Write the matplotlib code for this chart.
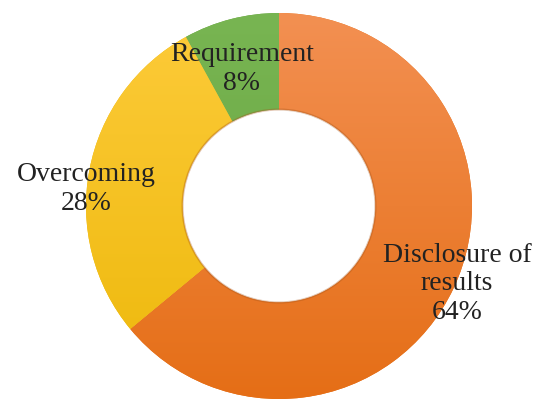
import matplotlib.pyplot as plt
import numpy as np
from matplotlib.colors import LinearSegmentedColormap
from matplotlib.patches import Circle

plt.rcParams["font.family"] = ["Liberation Serif", "DejaVu Serif"]

# share of answers per category
labels = ["Disclosure of\nresults", "Overcoming", "Requirement"]
shares = [64, 28, 8]
# light (top) / dark (bottom) shade for each ring segment
shades = [("#F39052", "#E56E16"), ("#FDCB3A", "#EDB80A"), ("#78B552", "#66A23F")]

fig = plt.figure(figsize=(5.39, 4.07), dpi=100)
ax = fig.add_axes([0, 0, 1, 1])

cx, cy, r = 279, 201, 193
hole = r * 0.5
wedges, texts = ax.pie(shares, colors=[s[1] for s in shades], startangle=90,
                       counterclock=False, radius=r, center=(cx, cy),
                       labels=[f"{l}\n{v}%" for l, v in zip(labels, shares)],
                       labeldistance=1.08,
                       wedgeprops=dict(width=r - hole, linewidth=0),
                       textprops=dict(fontsize=20, color="#222222",
                                      ha="center", va="center",
                                      linespacing=1.2))

# vertical shading inside each segment
grad = np.linspace(0, 1, 256).reshape(-1, 1)
for w, (light, dark) in zip(wedges, shades):
    cmap = LinearSegmentedColormap.from_list("g", [dark, light])
    im = ax.imshow(grad, cmap=cmap, origin="lower", aspect="auto",
                   extent=(cx - r, cx + r, cy - r, cy + r), zorder=1.5)
    im.set_clip_path(w)

# soft rim around the hole
ax.add_patch(Circle((cx, cy), hole, fill=False, edgecolor="#A85418",
                    linewidth=1.5, alpha=0.35, zorder=2))

# label placement
texts[0].set_position((457, 407 - 284))
texts[1].set_position((86, 407 - 189))
texts[2].set_position((242, 407 - 69))
for t in texts:
    t.set_zorder(3)

ax.set_xlim(0, 539)
ax.set_ylim(0, 407)
ax.set_aspect("equal")
ax.axis("off")

fig.savefig("out.png", dpi=100)
